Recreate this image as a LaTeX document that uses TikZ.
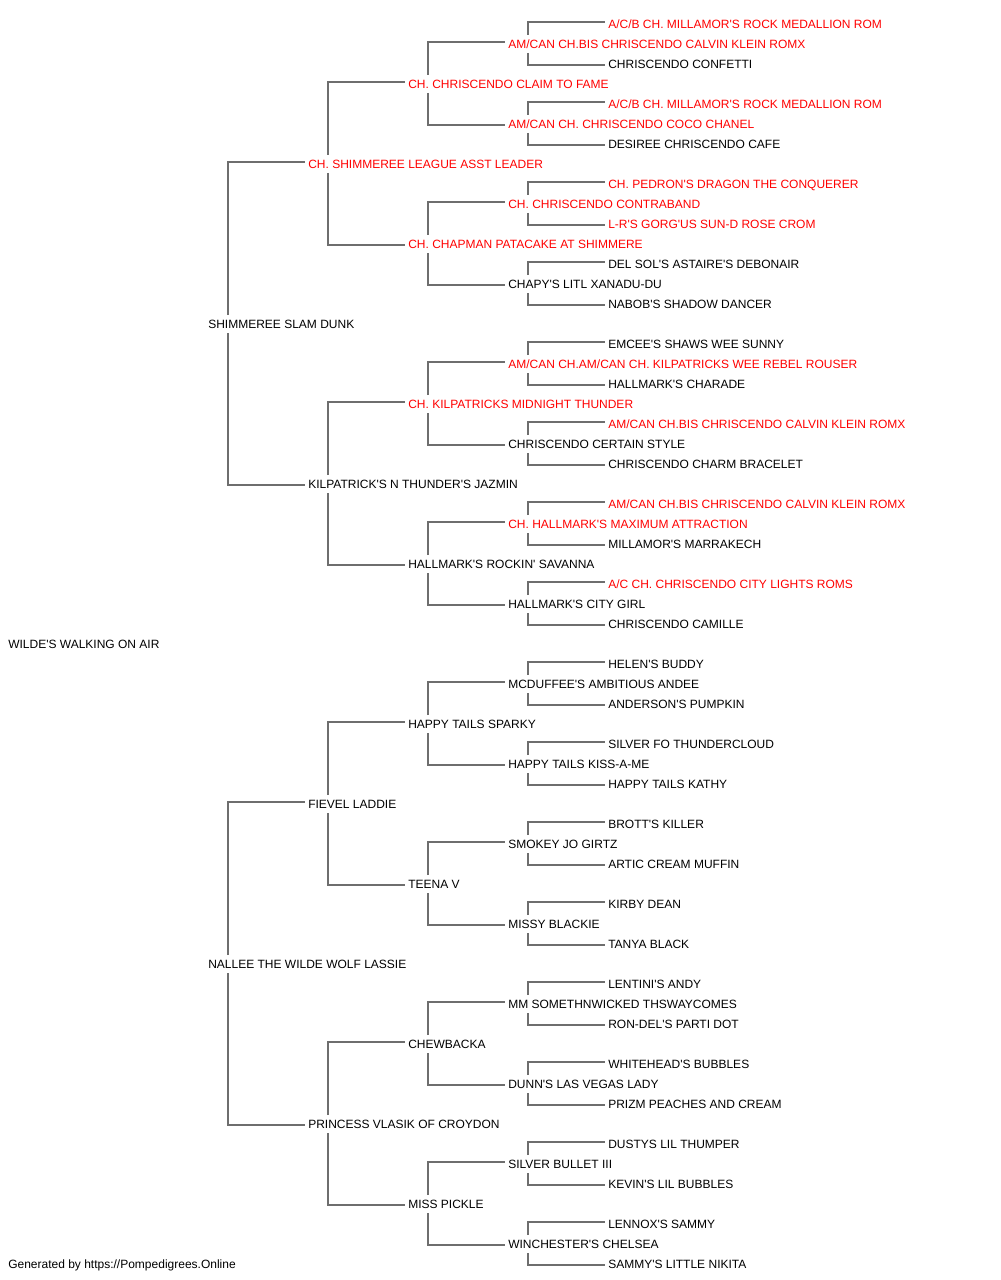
\documentclass[tikz,border=0pt]{standalone}
\usepackage{fontspec}
\usepackage{tikz}
\newfontfamily\pedfont{Liberation Sans}
\definecolor{champred}{HTML}{FF0000}
\definecolor{linegray}{HTML}{6E6E6E}

\begin{document}
\begin{tikzpicture}[x=0.75pt,y=-0.75pt,
  dog/.style={anchor=west,inner sep=0pt,text height=8pt,text depth=0pt,
    font=\pedfont\fontsize{9pt}{11pt}\selectfont},
  ch/.style={dog,text=champred},
  link/.style={draw=linegray,line width=1.2pt}]

\useasboundingbox (0,0) rectangle (1000,1280);

% labels
\node[dog] (p1) at (8,643) {WILDE'S WALKING ON AIR};
% sire and dam
\node[dog] (p2) at (208,323) {SHIMMEREE SLAM DUNK};
\node[dog] (p3) at (208,963) {NALLEE THE WILDE WOLF LASSIE};
% grandparents
\node[ch]  (p4) at (308,163) {CH. SHIMMEREE LEAGUE ASST LEADER};
\node[dog] (p5) at (308,483) {KILPATRICK'S N THUNDER'S JAZMIN};
\node[dog] (p6) at (308,803) {FIEVEL LADDIE};
\node[dog] (p7) at (308,1123) {PRINCESS VLASIK OF CROYDON};
% great-grandparents
\node[ch]  (p8) at (408,83) {CH. CHRISCENDO CLAIM TO FAME};
\node[ch]  (p9) at (408,243) {CH. CHAPMAN PATACAKE AT SHIMMERE};
\node[ch]  (p10) at (408,403) {CH. KILPATRICKS MIDNIGHT THUNDER};
\node[dog] (p11) at (408,563) {HALLMARK'S ROCKIN' SAVANNA};
\node[dog] (p12) at (408,723) {HAPPY TAILS SPARKY};
\node[dog] (p13) at (408,883) {TEENA V};
\node[dog] (p14) at (408,1043) {CHEWBACKA};
\node[dog] (p15) at (408,1203) {MISS PICKLE};
% 4th generation
\node[ch]  (p16) at (508,43) {AM/CAN CH.BIS CHRISCENDO CALVIN KLEIN ROMX};
\node[ch]  (p17) at (508,123) {AM/CAN CH. CHRISCENDO COCO CHANEL};
\node[ch]  (p18) at (508,203) {CH. CHRISCENDO CONTRABAND};
\node[dog] (p19) at (508,283) {CHAPY'S LITL XANADU-DU};
\node[ch]  (p20) at (508,363) {AM/CAN CH.AM/CAN CH. KILPATRICKS WEE REBEL ROUSER};
\node[dog] (p21) at (508,443) {CHRISCENDO CERTAIN STYLE};
\node[ch]  (p22) at (508,523) {CH. HALLMARK'S MAXIMUM ATTRACTION};
\node[dog] (p23) at (508,603) {HALLMARK'S CITY GIRL};
\node[dog] (p24) at (508,683) {MCDUFFEE'S AMBITIOUS ANDEE};
\node[dog] (p25) at (508,763) {HAPPY TAILS KISS-A-ME};
\node[dog] (p26) at (508,843) {SMOKEY JO GIRTZ};
\node[dog] (p27) at (508,923) {MISSY BLACKIE};
\node[dog] (p28) at (508,1003) {MM SOMETHNWICKED THSWAYCOMES};
\node[dog] (p29) at (508,1083) {DUNN'S LAS VEGAS LADY};
\node[dog] (p30) at (508,1163) {SILVER BULLET III};
\node[dog] (p31) at (508,1243) {WINCHESTER'S CHELSEA};
% 5th generation
\node[ch]  (p32) at (608,23) {A/C/B CH. MILLAMOR'S ROCK MEDALLION ROM};
\node[dog] (p33) at (608,63) {CHRISCENDO CONFETTI};
\node[ch]  (p34) at (608,103) {A/C/B CH. MILLAMOR'S ROCK MEDALLION ROM};
\node[dog] (p35) at (608,143) {DESIREE CHRISCENDO CAFE};
\node[ch]  (p36) at (608,183) {CH. PEDRON'S DRAGON THE CONQUERER};
\node[ch]  (p37) at (608,223) {L-R'S GORG'US SUN-D ROSE CROM};
\node[dog] (p38) at (608,263) {DEL SOL'S ASTAIRE'S DEBONAIR};
\node[dog] (p39) at (608,303) {NABOB'S SHADOW DANCER};
\node[dog] (p40) at (608,343) {EMCEE'S SHAWS WEE SUNNY};
\node[dog] (p41) at (608,383) {HALLMARK'S CHARADE};
\node[ch]  (p42) at (608,423) {AM/CAN CH.BIS CHRISCENDO CALVIN KLEIN ROMX};
\node[dog] (p43) at (608,463) {CHRISCENDO CHARM BRACELET};
\node[ch]  (p44) at (608,503) {AM/CAN CH.BIS CHRISCENDO CALVIN KLEIN ROMX};
\node[dog] (p45) at (608,543) {MILLAMOR'S MARRAKECH};
\node[ch]  (p46) at (608,583) {A/C CH. CHRISCENDO CITY LIGHTS ROMS};
\node[dog] (p47) at (608,623) {CHRISCENDO CAMILLE};
\node[dog] (p48) at (608,663) {HELEN'S BUDDY};
\node[dog] (p49) at (608,703) {ANDERSON'S PUMPKIN};
\node[dog] (p50) at (608,743) {SILVER FO THUNDERCLOUD};
\node[dog] (p51) at (608,783) {HAPPY TAILS KATHY};
\node[dog] (p52) at (608,823) {BROTT'S KILLER};
\node[dog] (p53) at (608,863) {ARTIC CREAM MUFFIN};
\node[dog] (p54) at (608,903) {KIRBY DEAN};
\node[dog] (p55) at (608,943) {TANYA BLACK};
\node[dog] (p56) at (608,983) {LENTINI'S ANDY};
\node[dog] (p57) at (608,1023) {RON-DEL'S PARTI DOT};
\node[dog] (p58) at (608,1063) {WHITEHEAD'S BUBBLES};
\node[dog] (p59) at (608,1103) {PRIZM PEACHES AND CREAM};
\node[dog] (p60) at (608,1143) {DUSTYS LIL THUMPER};
\node[dog] (p61) at (608,1183) {KEVIN'S LIL BUBBLES};
\node[dog] (p62) at (608,1223) {LENNOX'S SAMMY};
\node[dog] (p63) at (608,1263) {SAMMY'S LITTLE NIKITA};

\node[dog] (gen) at (8,1263) {Generated by https://Pompedigrees.Online};

% drawing: each dog to its sire (upper) and dam (lower)
\foreach \i [evaluate=\i as \s using int(2*\i),
             evaluate=\i as \d using int(2*\i+1)] in {2,...,31}{
  \draw[link] ([shift={(20,-8)}]p\i.west) |- ([shift={(-3,-1)}]p\s.west);
  \draw[link] ([shift={(20,10)}]p\i.west) |- ([shift={(-3,2)}]p\d.west);
}
\end{tikzpicture}
\end{document}
